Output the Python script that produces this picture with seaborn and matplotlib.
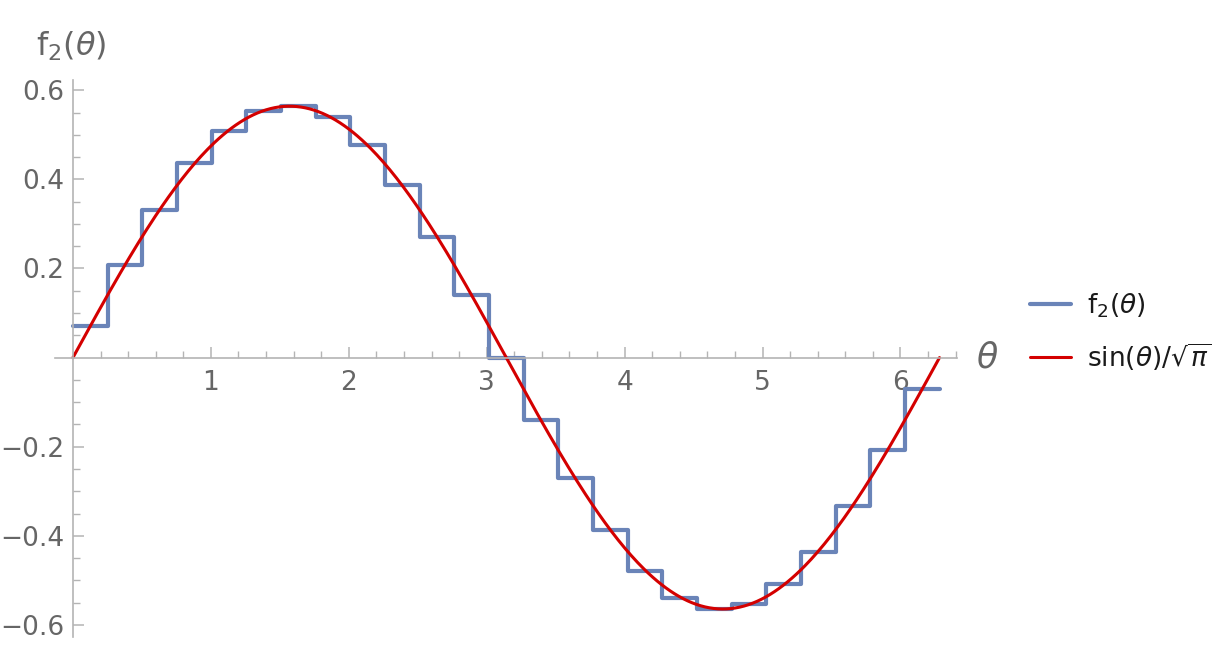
import numpy as np
import matplotlib
matplotlib.use('Agg')
from matplotlib import pyplot as plt
import pandas as pd
import seaborn as sns

# Step values (25 equal-width steps over 0..2pi)
step_values = [0.071, 0.208, 0.332, 0.436, 0.509, 0.553, 0.564, 0.540, 0.478,
               0.387, 0.271, 0.140, 0.000, -0.140, -0.271, -0.387, -0.478,
               -0.540, -0.564, -0.553, -0.509, -0.436, -0.332, -0.208, -0.071]
step_edges = np.linspace(0, 2 * np.pi, len(step_values) + 1)

x_ticks = [1, 2, 3, 4, 5, 6]
y_ticks = [-0.6, -0.4, -0.2, 0.2, 0.4, 0.6]
y_tick_labels = ['\u22120.6', '\u22120.4', '\u22120.2', '0.2', '0.4', '0.6']

steps = pd.DataFrame({'theta': step_edges,
                      'f2': step_values + [step_values[-1]]})
theta = np.linspace(0, 2 * np.pi, 400)
curve = pd.DataFrame({'theta': theta, 'f': np.sin(theta) / np.sqrt(np.pi)})

sns.set_style('white')
plt.rcParams['font.family'] = ['DejaVu Sans']
plt.rcParams['mathtext.fontset'] = 'dejavusans'

gray = '#666666'
axis_gray = '#b4b4b4'

fig = plt.figure(figsize=(12.25, 6.7), dpi=100)
ax = fig.add_axes([55 / 1225, 1 - 637 / 670, 902 / 1225, 557 / 670])

sns.lineplot(data=steps, x='theta', y='f2', drawstyle='steps-post',
             color='#6a84b8', linewidth=3.0, estimator=None, sort=False,
             ax=ax, label=r'$\mathrm{f}_2(\theta)$')
sns.lineplot(data=curve, x='theta', y='f', color='#d40000', linewidth=2.2,
             estimator=None, sort=False, ax=ax,
             label=r'$\sin(\theta)/\sqrt{\pi}$')

ax.set_xlim(-0.13, 6.41)
ax.set_ylim(-0.627, 0.623)
ax.set_xlabel('')
ax.set_ylabel('')

for side in ['top', 'right']:
    ax.spines[side].set_visible(False)
for side in ['left', 'bottom']:
    ax.spines[side].set_position(('data', 0))
    ax.spines[side].set_color(axis_gray)
    ax.spines[side].set_linewidth(1.2)

ax.set_xticks(x_ticks)
ax.set_xticklabels([str(v) for v in x_ticks])
ax.set_xticks([v for v in np.arange(0.2, 6.41, 0.2) if abs(v - round(v)) > 1e-6],
              minor=True)
ax.set_yticks(y_ticks)
ax.set_yticklabels(y_tick_labels)
ax.set_yticks([v for v in np.arange(-0.6, 0.61, 0.05)
               if abs(v * 5 - round(v * 5)) > 1e-6], minor=True)

ax.tick_params(axis='both', which='both', bottom=True, left=True)
ax.tick_params(axis='both', which='major', direction='in', length=8, width=1.1,
               color=axis_gray, labelcolor=gray, labelsize=19)
ax.tick_params(axis='both', which='minor', direction='in', length=5, width=1.0,
               color=axis_gray)
ax.tick_params(axis='x', which='major', pad=9)
ax.tick_params(axis='y', which='major', pad=6)

fig.text(987 / 1225, 1 - 357 / 670, r'$\theta$', ha='center', va='center',
         fontsize=25, color=gray)
fig.text(71 / 1225, 1 - 46 / 670, r'$\mathrm{f}_2(\theta)$', ha='center',
         va='center', fontsize=23, color=gray)

leg = ax.legend(loc='center left', bbox_to_anchor=(1030 / 1225, 1 - 332 / 670),
                bbox_transform=fig.transFigure, frameon=False, fontsize=19,
                handlelength=1.55, handletextpad=0.6, labelspacing=0.8,
                borderpad=0, borderaxespad=0)
for txt in leg.get_texts():
    txt.set_color('#1a1a1a')

fig.savefig('out.png', dpi=100)
